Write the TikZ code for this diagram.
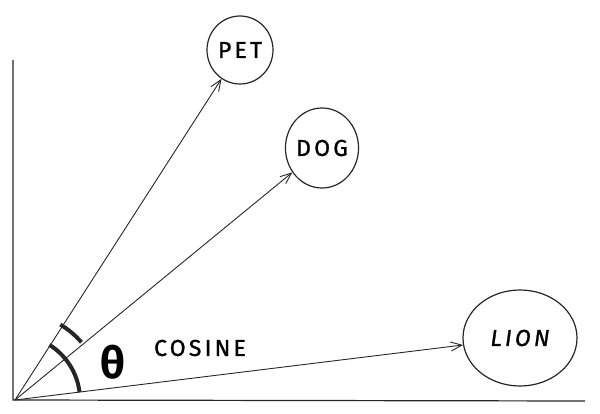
\documentclass[tikz,border=0pt]{standalone}
\usepackage{fontspec}
\setmainfont{Fira Sans}
\newfontfamily\wordfont[LetterSpace=14,FakeBold=1.2]{Fira Sans}
\usetikzlibrary{arrows.meta,shapes.geometric}
\begin{document}
\begin{tikzpicture}[x=1pt,y=-1pt,
  axis/.style={line width=1.2pt,black!85},
  vec/.style={line width=0.9pt,black!85,-{Straight Barb[length=11pt,width=9pt]}},
  bubble/.style={draw=black!85,line width=1.2pt,ellipse,inner sep=0pt,font=\wordfont\fontsize{23}{23}\selectfont},
  word/.style={font=\wordfont\fontsize{23}{23}\selectfont},
  anglearc/.style={line width=4pt,black!85}]
\useasboundingbox (0,0) rectangle (600,414);
% axes
\coordinate (O) at (15,400);
\coordinate (ytop) at (13,60);
\coordinate (xend) at (585,401);
\draw[axis] (ytop) -- (13,400) -- (xend);
% nodes
\node[bubble,minimum width=66pt,minimum height=68pt] (pet) at (240,50) {PET};
\node[bubble,minimum width=70pt,minimum height=80pt] (dog) at (322,148) {DOG};
\node[bubble,minimum width=114pt,minimum height=96pt] (lion) at (520,338) {\itshape LION};
% vectors
\draw[vec] (O) -- (pet);
\draw[vec] (O) -- (dog);
\draw[vec] (O) -- (lion);
% angle arcs
\draw[anglearc] (O) ++(-59:88) arc[start angle=-59,end angle=-41,radius=88];
\draw[anglearc] (O) ++(-58:65) arc[start angle=-58,end angle=-7,radius=65];
\node[font=\fontsize{44}{44}\selectfont\bfseries] (theta) at (113,362) {θ};
\node[word] (cos) at (200,348) {COSINE};
\end{tikzpicture}
\end{document}
